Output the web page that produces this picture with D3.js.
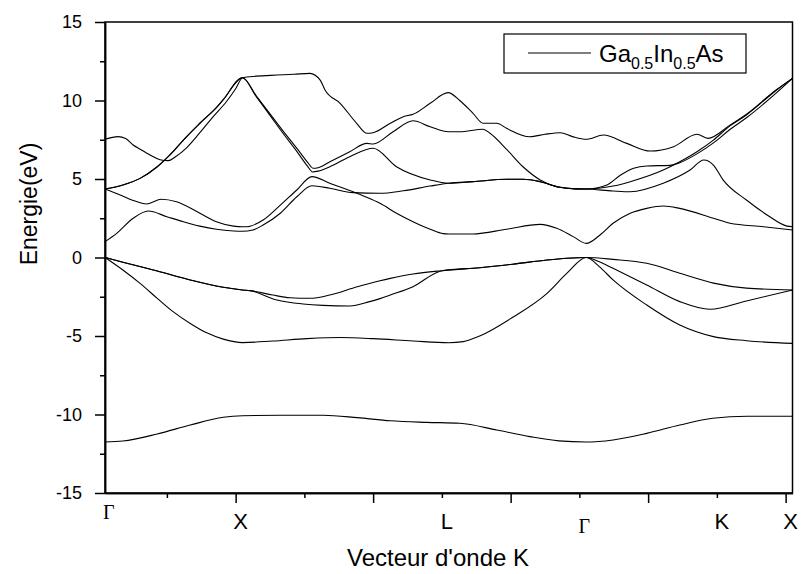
<!DOCTYPE html>
<html>
<head>
<meta charset="utf-8">
<script src="https://cdn.jsdelivr.net/npm/d3@7"></script>
<style>
  body { margin: 0; background: #fff; }
  svg text { font-family: Arial, "Liberation Sans", sans-serif; fill: #000; }
</style>
</head>
<body>
<div id="chart-area"></div>
<script>
// Structure de bandes Ga0.5In0.5As : [indice du point k, énergie en eV]
// Bandes de valence
const band1 = [[1,-11.75],[3.6,-11.69],[8.6,-11.24],[13.4,-10.67],[18.2,-10.18],[21,-10.08],[26.5,-10.05],[32.7,-10.05],[37.7,-10.2],[42.5,-10.4],[47.8,-10.5],[52.6,-10.56],[58,-10.99],[62.8,-11.41],[67,-11.68],[71,-11.75],[74.9,-11.62],[79.8,-11.2],[84.6,-10.67],[89.4,-10.24],[94.4,-10.11],[101,-10.11]];
const band2 = [[1,0],[3.6,-0.8],[6.1,-1.65],[8.6,-2.6],[10.9,-3.45],[13.4,-4.2],[15.8,-4.8],[18.2,-5.2],[21,-5.42],[25.4,-5.32],[30.4,-5.17],[35.2,-5.1],[40,-5.17],[45.8,-5.32],[51,-5.43],[53.1,-5.36],[55.5,-5.0],[60.3,-3.81],[65.3,-2.28],[68.2,-1.0],[71,0],[72.9,-0.58],[74.9,-1.43],[79.8,-3.03],[84.6,-4.3],[89.5,-5.04],[94.3,-5.3],[101,-5.47]];
const band3 = [[1,0],[3.6,-0.3],[8.6,-0.86],[13.4,-1.43],[18.2,-1.9],[21,-2.07],[22.1,-2.11],[26,-2.71],[29.8,-2.96],[32.7,-3.05],[36.6,-3.09],[39.5,-2.81],[41,-2.62],[42.5,-2.39],[45.8,-1.86],[50,-0.84],[55.5,-0.65],[60.3,-0.43],[65.3,-0.16],[68.2,-0.05],[71,0],[72.9,-0.27],[74.9,-0.69],[79.8,-1.75],[84.6,-2.81],[89,-3.3],[94.3,-2.77],[101,-2.07]];
const band4 = [[1,0],[3.6,-0.3],[8.6,-0.86],[13.4,-1.43],[18.2,-1.9],[21,-2.07],[22.1,-2.11],[25.4,-2.39],[27.9,-2.56],[30.8,-2.6],[33.7,-2.39],[37.7,-1.86],[41,-1.48],[42.5,-1.33],[45.8,-1.05],[50,-0.84],[55.5,-0.65],[60.3,-0.43],[65.3,-0.16],[68.2,-0.05],[71,0],[74.9,-0.12],[79.8,-0.37],[84.6,-1.0],[89.5,-1.63],[94.3,-1.95],[101,-2.07]];
// Bandes de conduction
const band5 = [[1,1.01],[2.7,1.54],[5.1,2.5],[7.3,2.96],[10,2.6],[12.4,2.28],[14.8,2.0],[17.2,1.8],[19.7,1.69],[21,1.67],[22.5,1.75],[24,2.07],[26.5,2.82],[28.9,3.87],[31.1,4.57],[33.7,4.41],[37.1,4.13],[41,4.09],[44.4,4.25],[48.3,4.55],[51,4.73],[54.5,4.83],[59.5,4.98],[61.8,4.98],[64.3,4.83],[67.2,4.47],[69.5,4.37],[71,4.36],[74.9,4.55],[77.4,4.83],[82.2,5.57],[84.6,6.1],[87.1,6.74],[89.5,7.48],[91.9,8.38],[94.3,9.08],[98.7,10.67],[101,11.41]];
const band6 = [[1,4.36],[3.2,3.98],[5,3.65],[7.1,3.41],[9.2,3.71],[11.4,3.55],[14.8,2.82],[17.2,2.28],[19.7,2.0],[21,1.96],[21.6,1.96],[24,2.39],[26.5,3.34],[28.9,4.3],[31.1,5.15],[33.7,4.73],[38.6,3.92],[41,3.45],[43.4,2.82],[45.8,2.28],[48.3,1.8],[50.2,1.52],[51,1.5],[54.5,1.5],[59.4,1.8],[64.3,2.11],[66.7,1.86],[69.1,1.33],[71,0.9],[73,1.43],[74.9,2.18],[77.4,2.82],[79.8,3.13],[82.2,3.28],[84.6,3.13],[89.5,2.5],[91.9,2.18],[96.8,1.96],[101,1.75]];
const band7 = [[1,4.36],[3.6,4.62],[6.1,5.04],[8.6,5.78],[10.9,6.74],[12.4,7.48],[14.8,8.55],[17.3,9.6],[18.2,10.05],[21,11.45],[23,10.25],[25,9.05],[27,7.85],[29,6.7],[30.4,5.85],[31.2,5.45],[32,5.5],[33.7,5.78],[36.6,6.42],[40,6.96],[43.4,5.78],[48.3,4.94],[51,4.73],[54.5,4.83],[59.5,4.98],[61.8,4.98],[64.3,4.83],[67.2,4.47],[69.5,4.37],[71,4.36],[74.9,4.24],[77.4,4.19],[82.2,4.73],[86.1,5.57],[88.1,6.21],[89.5,5.89],[90.9,4.94],[94.3,3.66],[97.3,2.71],[100.2,2.0],[101,1.96]];
const band8 = [[1,4.36],[3.6,4.62],[6.1,5.04],[8.6,5.78],[10.9,6.74],[12.4,7.48],[14.8,8.55],[17.3,9.6],[18.2,10.05],[21,11.45],[23,10.3],[25,9.15],[27,8.0],[29,6.9],[30.5,6.05],[31.3,5.68],[32,5.72],[33.7,6.1],[36.6,6.74],[39.1,7.27],[40,7.23],[42.9,8.01],[45.8,8.71],[48.3,8.33],[51,8.01],[52.6,8.01],[56,8.17],[57,7.91],[59.5,6.85],[61.8,5.78],[64.3,4.94],[66.7,4.51],[69.5,4.37],[71,4.36],[74,4.62],[76,5.25],[77.9,5.68],[79.8,5.83],[83.2,5.87],[84.6,6.04],[87.1,6.6],[89.5,7.3],[91.9,8.15],[94.3,8.9],[98.7,10.5],[101,11.41]];
const band9 = [[1,7.53],[2.9,7.7],[4,7.58],[5.1,7.17],[6.1,6.9],[7.55,6.53],[9,6.23],[10.2,6.17],[11.2,6.4],[12.9,7.0],[14.8,7.95],[16.8,9.0],[18.7,9.95],[20,10.75],[21,11.45],[23,11.55],[26,11.62],[28.5,11.67],[30.8,11.73],[32.3,11.3],[33,10.67],[35.2,9.82],[37.6,8.55],[39.1,7.91],[40,7.95],[42.5,8.55],[44.4,8.97],[45.8,9.12],[48.3,9.82],[50.9,10.5],[52.6,10.0],[54.5,9.2],[56,8.55],[58,8.55],[59.4,8.23],[62.8,7.69],[65,7.85],[67.2,7.95],[69,7.7],[71,7.53],[73.5,7.8],[76.9,7.27],[80.3,6.78],[83.7,7.06],[87.1,7.85],[88.7,7.59],[91.9,8.43],[94.3,9.13],[98.7,10.7],[101,11.41]];

const bands = [band1, band2, band3, band4, band5, band6, band7, band8, band9];

// Points de haute symétrie
const symLabels = ["Γ", "X", "L", "Γ", "K", "X"];
const symPoints = [1, 21, 51, 71, 91, 101];

// Graduations
const xMajorTicks = [20, 40, 60, 80, 100];
const xMinorTicks = [10, 30, 50, 70, 90];
const yMajorTicks = [-15, -10, -5, 0, 5, 10, 15];
const yMinorTicks = [-12.5, -7.5, -2.5, 2.5, 7.5, 12.5];

const legendLabel = ["Ga", "0.5", "In", "0.5", "As"];

// SVG
const svg = d3.select("#chart-area")
    .append("svg")
    .attr("width", 801)
    .attr("height", 574)
    .style("background", "#fff");

// Echelles
const x = d3.scaleLinear()
    .domain([1, 101])
    .range([105, 792.5]);

const y = d3.scaleLinear()
    .domain([-15, 15])
    .range([493, 22]);

// Cadre
svg.append("rect")
    .attr("x", x(1))
    .attr("y", y(15))
    .attr("width", x(101) - x(1))
    .attr("height", y(-15) - y(15))
    .attr("fill", "none")
    .attr("stroke", "#000")
    .attr("stroke-width", 1.5);

// Axe Y
const yAxis = svg.append("g")
    .attr("transform", `translate(${x(1)},0)`)
    .call(d3.axisLeft(y).tickValues(yMajorTicks).tickSize(10).tickSizeOuter(0).tickPadding(13)
        .tickFormat(d => String(d)));  // tiret simple comme l'original
yAxis.selectAll("text").style("font-size", "18px");

svg.append("g")
    .attr("transform", `translate(${x(1)},0)`)
    .call(d3.axisLeft(y).tickValues(yMinorTicks).tickSize(5).tickSizeOuter(0).tickFormat(""));

// Axe X
svg.append("g")
    .attr("transform", `translate(0,${y(-15)})`)
    .call(d3.axisBottom(x).tickValues(xMajorTicks).tickSize(10).tickSizeOuter(0).tickFormat(""));

svg.append("g")
    .attr("transform", `translate(0,${y(-15)})`)
    .call(d3.axisBottom(x).tickValues(xMinorTicks).tickSize(5).tickSizeOuter(0).tickFormat(""));

svg.selectAll(".domain, .tick line")
    .attr("stroke", "#000")
    .attr("stroke-width", 1.5);

// Etiquettes des points de symétrie
svg.selectAll(".sym")
    .data(symLabels)
    .enter()
    .append("text")
    .attr("class", "sym")
    .attr("x", (d, i) => x(symPoints[i]) - 2)
    .attr("y", (d, i) => d === "Γ" ? (i === 0 ? 519 : 533) : 529)
    .attr("text-anchor", (d, i) => i === 0 ? "start" : "middle")
    .style("font-family", d => d === "Γ" ? "'Liberation Serif', 'Times New Roman', serif" : null)
    .style("font-size", d => d === "Γ" ? "20px" : "22px")
    .text(d => d);

// Titres des axes
svg.append("text")
    .attr("x", 438)
    .attr("y", 566)
    .attr("text-anchor", "middle")
    .style("font-size", "24px")
    .text("Vecteur d'onde K");

svg.append("text")
    .attr("transform", "translate(37,204) rotate(-90)")
    .attr("text-anchor", "middle")
    .style("font-size", "23px")
    .text("Energie(eV)");

// Courbes
const line = d3.line()
    .x(d => x(d[0]))
    .y(d => y(d[1]))
    .curve(d3.curveMonotoneX);

svg.append("g")
    .selectAll("path")
    .data(bands)
    .enter()
    .append("path")
    .attr("d", line)
    .attr("fill", "none")
    .attr("stroke", "#000")
    .attr("stroke-width", 1.1);

// Légende
const legend = svg.append("g");
legend.append("rect")
    .attr("x", 504)
    .attr("y", 34)
    .attr("width", 242)
    .attr("height", 39)
    .attr("fill", "#fff")
    .attr("stroke", "#000")
    .attr("stroke-width", 1.2);
legend.append("line")
    .attr("x1", 528).attr("x2", 591)
    .attr("y1", 53).attr("y2", 53)
    .attr("stroke", "#000")
    .attr("stroke-width", 1.1);
const legendText = legend.append("text")
    .attr("x", 599)
    .attr("y", 62)
    .style("font-size", "24px");
legendText.selectAll("tspan")
    .data(legendLabel)
    .enter()
    .append("tspan")
    .attr("dy", (d, i) => i === 0 ? 0 : (i % 2 === 1 ? 7 : -7))
    .style("font-size", (d, i) => i % 2 === 1 ? "16px" : "24px")
    .text(d => d);
</script>
</body>
</html>
